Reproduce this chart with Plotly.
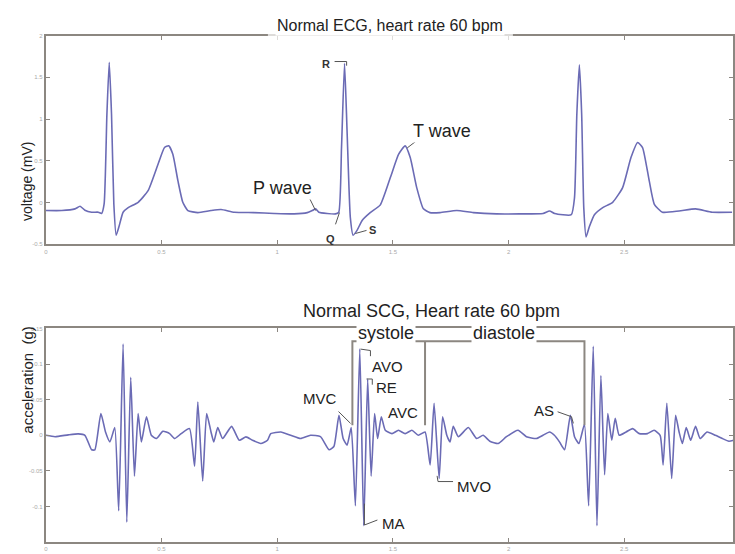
import plotly.graph_objects as go

# ---------------- data ----------------
ecg_t = [0.0, 0.069, 0.126, 0.148, 0.169, 0.198, 0.227, 0.241, 0.252, 0.264, 0.274, 0.284, 0.294,
         0.304, 0.316, 0.334, 0.356, 0.399, 0.442, 0.485, 0.513, 0.531, 0.549, 0.571, 0.592, 0.614,
         0.657, 0.714, 0.757, 0.815, 0.9, 0.987, 1.073, 1.13, 1.152, 1.166, 1.18, 1.216, 1.252,
         1.266, 1.278, 1.291, 1.302, 1.316, 1.328, 1.345, 1.367, 1.402, 1.445, 1.489, 1.525,
         1.553, 1.575, 1.603, 1.632, 1.66, 1.704, 1.776, 1.848, 1.948, 2.048, 2.149, 2.177, 2.199,
         2.271, 2.285, 2.295, 2.306, 2.316, 2.325, 2.335, 2.349, 2.371, 2.407, 2.45, 2.493, 2.529,
         2.558, 2.579, 2.608, 2.63, 2.665, 2.737, 2.809, 2.88, 2.966]
ecg_v = [-0.095, -0.095, -0.075, -0.044, -0.091, -0.115, -0.115, -0.13, -0.016, 1.056, 1.68, 1.056,
         -0.016, -0.39, -0.29, -0.115, -0.06, 0.004, 0.143, 0.46, 0.66, 0.68, 0.58, 0.26, 0.004,
         -0.095, -0.12, -0.095, -0.083, -0.115, -0.12, -0.13, -0.135, -0.12, -0.095, -0.075, -0.115,
         -0.13, -0.135, -0.115, 0.66, 1.67, 0.857, -0.175, -0.39, -0.333, -0.214, -0.12, -0.03,
         0.30, 0.58, 0.68, 0.54, 0.18, -0.075, -0.12, -0.12, -0.095, -0.12, -0.135, -0.135, -0.13,
         -0.1, -0.13, -0.145, 0.06, 1.056, 1.65, 1.056, -0.06, -0.41, -0.29, -0.145, -0.06, 0.004,
         0.18, 0.54, 0.72, 0.66, 0.26, -0.02, -0.115, -0.1, -0.075, -0.115, -0.115]

scg_t = [0.0, 0.04, 0.097, 0.14, 0.169, 0.198, 0.212, 0.238, 0.258, 0.277, 0.298, 0.315, 0.334,
         0.35, 0.367, 0.383, 0.399, 0.413, 0.435, 0.456, 0.478, 0.506, 0.535, 0.557, 0.585, 0.621,
         0.643, 0.657, 0.678, 0.695, 0.714, 0.726, 0.743, 0.764, 0.803, 0.836, 0.865, 0.893, 0.929,
         0.958, 0.972, 1.016, 1.058, 1.101, 1.144, 1.187, 1.224, 1.245, 1.267, 1.285, 1.302, 1.32,
         1.338, 1.357, 1.374, 1.391, 1.406, 1.421, 1.434, 1.45, 1.467, 1.496, 1.524, 1.553, 1.582,
         1.61, 1.639, 1.661, 1.678, 1.7, 1.715, 1.733, 1.747, 1.761, 1.783, 1.826, 1.862, 1.89,
         1.919, 1.955, 1.991, 2.041, 2.077, 2.12, 2.149, 2.177, 2.198, 2.22, 2.242, 2.267, 2.285,
         2.304, 2.328, 2.346, 2.366, 2.382, 2.399, 2.415, 2.429, 2.446, 2.461, 2.478, 2.508, 2.536,
         2.565, 2.6, 2.629, 2.655, 2.668, 2.684, 2.705, 2.722, 2.737, 2.751, 2.768, 2.787, 2.808,
         2.828, 2.858, 2.894, 2.924, 2.952, 2.973]
scg_v = [0.0, -0.002, 0.0006, 0.002, 0.0, -0.0204, -0.0204, 0.0306, 0.0046, -0.0093, 0.0108, -0.106,
         0.128, -0.122, 0.0815, -0.0574, 0.0306, -0.0093, 0.026, 0.0, -0.0046, 0.0056, 0.0023,
         -0.0046, 0.0023, 0.0093, -0.0435, 0.0468, -0.0643, 0.0306, 0.0046, -0.0093, 0.0108,
         -0.0046, 0.0125, -0.007, -0.0023, -0.007, -0.0116, -0.007, 0.0023, 0.0046, 0.0, -0.0046,
         0.0, -0.002, -0.0204, -0.0157, 0.0282, -0.0046, -0.0139, 0.0108, -0.099, 0.121, -0.127,
         0.079, -0.0574, 0.0306, -0.0046, 0.026, 0.007, 0.0023, 0.007, 0.0023, 0.007, 0.0, 0.0046,
         -0.0417, 0.045, -0.0607, 0.026, 0.0, -0.0093, 0.0125, -0.002, 0.0108, -0.0046, 0.0,
         -0.0083, -0.0116, -0.002, 0.007, -0.002, -0.0046, 0.0, 0.0046, 0.0, -0.0093, -0.0204,
         0.0282, -0.002, -0.0116, 0.0153, -0.099, 0.125, -0.127, 0.0839, -0.0555, 0.0306, -0.007,
         0.0237, 0.0, 0.0046, 0.0093, 0.0023, 0.0023, 0.007, 0.0, -0.0417, 0.045, -0.0607, 0.0282,
         0.0046, -0.0116, 0.0108, -0.007, 0.0125, -0.0046, 0.0046, 0.0, -0.0046, -0.0083, -0.007]

x_ticks = [0, 0.5, 1, 1.5, 2, 2.5]
x_tick_labels = ["0", "0.5", "1", "1.5", "2", "2.5"]
ecg_y_ticks = [-0.5, 0, 0.5, 1, 1.5, 2]
ecg_y_tick_labels = ["-0.5", "0", "0.5", "1", "1.5", "2"]
scg_y_ticks = [-0.15, -0.1, -0.05, 0, 0.05, 0.1, 0.15]
scg_y_tick_labels = ["", "-0.1", "-0.05", "0", "0.05", "0.1", "0.15"]

ecg_title = "Normal ECG, heart rate 60 bpm"
scg_title = "Normal SCG, Heart rate 60 bpm"

# ECG wave labels: text, x, y (data units)
ecg_labels = ["R", "Q", "S"]
ecg_label_x = [1.209, 1.231, 1.411]
ecg_label_y = [1.655, -0.43, -0.333]
ecg_wave_labels = ["P wave", "T wave"]
ecg_wave_x = [1.024, 1.713]
ecg_wave_y = [0.18, 0.857]
ecg_leaders = [([1.248, 1.30, 1.30], [1.69, 1.69, 1.64]),
               ([1.252, 1.269], [-0.26, -0.12]),
               ([1.338, 1.386], [-0.37, -0.333]),
               ([1.132, 1.166], [0.095, -0.095]),
               ([1.562, 1.618], [0.655, 0.774])]

# SCG event labels
scg_labels = ["AVO", "RE", "MVC", "AVC", "MVO", "MA", "AS"]
scg_label_x = [1.476, 1.472, 1.183, 1.545, 1.850, 1.502, 2.151]
scg_label_y = [0.0972, 0.0667, 0.0514, 0.032, -0.072, -0.1236, 0.0347]
scg_leaders = [([1.36, 1.403, 1.403], [0.121, 0.119, 0.111]),
               ([1.386, 1.411, 1.411], [0.079, 0.079, 0.071]),
               ([1.265, 1.317], [0.0333, 0.0167]),
               ([1.691, 1.695, 1.76], [-0.057, -0.065, -0.065]),
               ([1.377, 1.377, 1.433], [-0.096, -0.126, -0.119]),
               ([2.212, 2.272, 2.28], [0.033, 0.026, 0.0167])]
phase_labels = ["systole", "diastole"]
phase_x = [1.472, 1.979]
phase_y = [0.143, 0.143]
bracket_x = [1.325, 1.325, 1.639, 1.639, 1.639, 2.328, 2.328]
bracket_y = [0.0139, 0.132, 0.132, 0.0139, 0.132, 0.132, 0.0139]

# ---------------- figure ----------------
W, H = 735, 554
def px(x):
    return x / W
def py(y):
    return 1 - y / H

AXIS = "#8c8781"
LINE = "#6b6bb5"
TXT = "#222222"
REG = "Liberation Sans, Arial, Helvetica, sans-serif"
NAR = "Liberation Sans Narrow, Arial Narrow, Liberation Sans, Arial, sans-serif"

fig = go.Figure()
fig.add_trace(go.Scatter(x=ecg_t, y=ecg_v, mode="lines", xaxis="x", yaxis="y",
                         line=dict(color=LINE, width=1.6, shape="spline", smoothing=0.5),
                         hoverinfo="skip", showlegend=False))
fig.add_trace(go.Scatter(x=scg_t, y=scg_v, mode="lines", xaxis="x2", yaxis="y2",
                         line=dict(color=LINE, width=1.6, shape="spline", smoothing=0.5),
                         hoverinfo="skip", showlegend=False))

# leader lines
for lx, ly in ecg_leaders:
    fig.add_trace(go.Scatter(x=lx, y=ly, mode="lines", xaxis="x", yaxis="y",
                             line=dict(color="#555", width=1), hoverinfo="skip", showlegend=False))
for lx, ly in scg_leaders:
    fig.add_trace(go.Scatter(x=lx, y=ly, mode="lines", xaxis="x2", yaxis="y2",
                             line=dict(color="#555", width=1), hoverinfo="skip", showlegend=False))
fig.add_trace(go.Scatter(x=bracket_x, y=bracket_y, mode="lines", xaxis="x2", yaxis="y2",
                         line=dict(color=AXIS, width=2), hoverinfo="skip", showlegend=False))

ax_common = dict(showline=True, linecolor=AXIS, linewidth=2, mirror="ticks", ticks="inside",
                 ticklen=4, tickwidth=1, tickcolor=AXIS, showgrid=False, zeroline=False,
                 tickfont=dict(size=6, color="#aaaaaa", family=REG))
fig.update_layout(
    width=W, height=H, margin=dict(l=0, r=0, t=0, b=0),
    paper_bgcolor="white", plot_bgcolor="white",
    xaxis=dict(domain=[px(44), px(734)], range=[0, 2.97], anchor="y",
               tickvals=x_ticks, ticktext=x_tick_labels, **ax_common),
    yaxis=dict(domain=[py(244), py(33)], range=[-0.5, 2], anchor="x",
               tickvals=ecg_y_ticks, ticktext=ecg_y_tick_labels, **ax_common),
    xaxis2=dict(domain=[px(44), px(734)], range=[0, 2.97], anchor="y2",
                tickvals=x_ticks, ticktext=x_tick_labels, **ax_common),
    yaxis2=dict(domain=[py(545), py(329)], range=[-0.15, 0.15], anchor="x2",
                tickvals=scg_y_ticks, ticktext=scg_y_tick_labels, **ax_common),
)

ann = []
ann.append(dict(text=ecg_title, x=px(390), y=py(12), xref="paper", yref="paper", showarrow=False,
                font=dict(family=NAR, size=16, color=TXT), bgcolor="white"))
ann.append(dict(text=scg_title, x=px(431), y=py(311), xref="paper", yref="paper", showarrow=False,
                font=dict(family=REG, size=18, color=TXT)))
ann.append(dict(text="voltage (mV)", x=px(15), y=py(138), xref="paper", yref="paper",
                showarrow=False, textangle=-90, font=dict(family=REG, size=14, color=TXT)))
ann.append(dict(text="acceleration  (g)", x=px(15), y=py(437), xref="paper", yref="paper",
                showarrow=False, textangle=-90, font=dict(family=REG, size=15, color=TXT)))
for t, x, y in zip(ecg_labels, ecg_label_x, ecg_label_y):
    ann.append(dict(text="<b>%s</b>" % t, x=x, y=y, xref="x", yref="y", showarrow=False,
                    font=dict(family=REG, size=11, color="#333")))
for t, x, y in zip(ecg_wave_labels, ecg_wave_x, ecg_wave_y):
    ann.append(dict(text=t, x=x, y=y, xref="x", yref="y", showarrow=False, bgcolor="white",
                    font=dict(family=NAR, size=18, color=TXT)))
for t, x, y in zip(scg_labels, scg_label_x, scg_label_y):
    ann.append(dict(text=t, x=x, y=y, xref="x2", yref="y2", showarrow=False, bgcolor="white",
                    font=dict(family=REG, size=15, color=TXT)))
for t, x, y in zip(phase_labels, phase_x, phase_y):
    ann.append(dict(text=t, x=x, y=y, xref="x2", yref="y2", showarrow=False, bgcolor="white",
                    font=dict(family=REG, size=18, color=TXT)))
fig.update_layout(annotations=ann)

# faded frame behind the ECG title
fig.add_shape(type="rect", xref="paper", yref="paper", x0=px(267), x1=px(513), y0=py(38), y1=py(28),
              fillcolor="white", opacity=0.7, line=dict(width=0), layer="above")

fig.write_html("out.html")
